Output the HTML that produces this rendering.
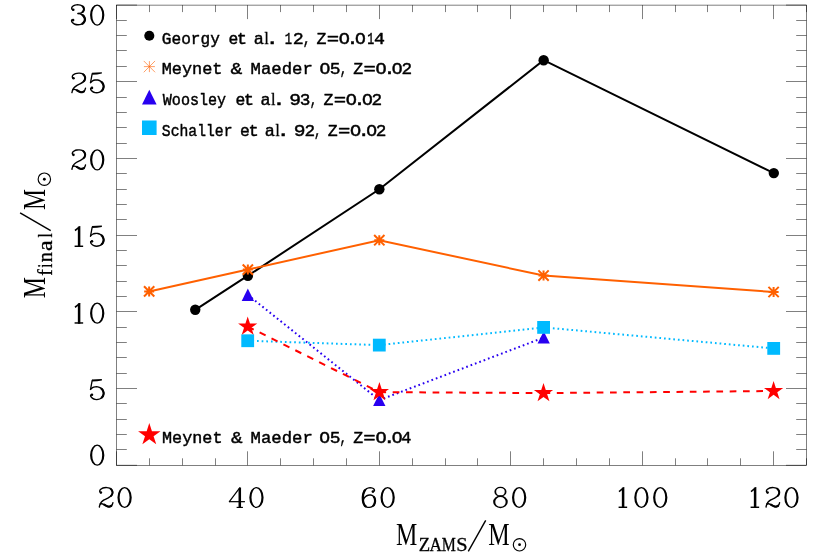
<!DOCTYPE html>
<html><head><meta charset="utf-8"><title>Final mass vs ZAMS mass</title>
<style>
html,body{margin:0;padding:0;background:#fff;}
body{width:830px;height:554px;overflow:hidden;}
svg{display:block;will-change:transform;}
text{font-family:"Liberation Serif",serif;fill:#000;}
.lg{font-family:"Liberation Mono",monospace;stroke:#000;stroke-width:0.45px;stroke-linejoin:round;}
.ls{stroke:#000;stroke-width:0.45px;}
.sb{stroke:#000;stroke-width:0.3px;}
.ax{stroke:#000;stroke-width:0.5;fill:none;}
</style></head><body>
<svg width="830" height="554" viewBox="0 0 830 554">
<rect width="830" height="554" fill="#fff"/>
<g class="ax">
<rect x="116.5" y="5.1" width="690" height="460.2"/>
<path d="M116.5 465.3v-14M116.5 5.1v14M149.5 465.3v-7M149.5 5.1v7M182.5 465.3v-7M182.5 5.1v7M215.5 465.3v-7M215.5 5.1v7M247.5 465.3v-14M247.5 5.1v14M280.5 465.3v-7M280.5 5.1v7M313.5 465.3v-7M313.5 5.1v7M346.5 465.3v-7M346.5 5.1v7M379.5 465.3v-14M379.5 5.1v14M412.5 465.3v-7M412.5 5.1v7M445.5 465.3v-7M445.5 5.1v7M477.5 465.3v-7M477.5 5.1v7M510.5 465.3v-14M510.5 5.1v14M543.5 465.3v-7M543.5 5.1v7M576.5 465.3v-7M576.5 5.1v7M609.5 465.3v-7M609.5 5.1v7M642.5 465.3v-14M642.5 5.1v14M675.5 465.3v-7M675.5 5.1v7M707.5 465.3v-7M707.5 5.1v7M740.5 465.3v-7M740.5 5.1v7M773.5 465.3v-14M773.5 5.1v14M806.5 465.3v-7M806.5 5.1v7M116.5 465.3h20.5M806.5 465.3h-20.5M116.5 449.5h10.3M806.5 449.5h-10.3M116.5 434.5h10.3M806.5 434.5h-10.3M116.5 419.5h10.3M806.5 419.5h-10.3M116.5 403.5h10.3M806.5 403.5h-10.3M116.5 388.5h20.5M806.5 388.5h-20.5M116.5 373.5h10.3M806.5 373.5h-10.3M116.5 357.5h10.3M806.5 357.5h-10.3M116.5 342.5h10.3M806.5 342.5h-10.3M116.5 327.5h10.3M806.5 327.5h-10.3M116.5 311.5h20.5M806.5 311.5h-20.5M116.5 296.5h10.3M806.5 296.5h-10.3M116.5 281.5h10.3M806.5 281.5h-10.3M116.5 265.5h10.3M806.5 265.5h-10.3M116.5 250.5h10.3M806.5 250.5h-10.3M116.5 235.5h20.5M806.5 235.5h-20.5M116.5 219.5h10.3M806.5 219.5h-10.3M116.5 204.5h10.3M806.5 204.5h-10.3M116.5 189.5h10.3M806.5 189.5h-10.3M116.5 173.5h10.3M806.5 173.5h-10.3M116.5 158.5h20.5M806.5 158.5h-20.5M116.5 143.5h10.3M806.5 143.5h-10.3M116.5 127.5h10.3M806.5 127.5h-10.3M116.5 112.5h10.3M806.5 112.5h-10.3M116.5 97.5h10.3M806.5 97.5h-10.3M116.5 81.5h20.5M806.5 81.5h-20.5M116.5 66.5h10.3M806.5 66.5h-10.3M116.5 50.5h10.3M806.5 50.5h-10.3M116.5 35.5h10.3M806.5 35.5h-10.3M116.5 20.5h10.3M806.5 20.5h-10.3M116.5 5.1h20.5M806.5 5.1h-20.5"/>
</g>
<polyline points="195.25,309.8 247.9,275.7 379.35,189.3 543.65,60.2 773.8,173.1" fill="none" stroke="#000" stroke-width="2"/>
<circle cx="195.25" cy="309.8" r="5.2" fill="#000"/>
<circle cx="247.9" cy="275.7" r="5.2" fill="#000"/>
<circle cx="379.35" cy="189.3" r="5.2" fill="#000"/>
<circle cx="543.65" cy="60.2" r="5.2" fill="#000"/>
<circle cx="773.8" cy="173.1" r="5.2" fill="#000"/>
<polyline points="149.15,291.4 247.85,269.6 379.3,240.2 543.55,275.55 773.6,292" fill="none" stroke="#ff6000" stroke-width="2"/>
<path d="M144.15 291.4h10M149.15 286.4v10M144 286.25l10.3 10.3M144 296.55l10.3 -10.3" stroke="#ff6000" stroke-width="2" fill="none"/>
<path d="M242.85 269.6h10M247.85 264.6v10M242.7 264.45l10.3 10.3M242.7 274.75l10.3 -10.3" stroke="#ff6000" stroke-width="2" fill="none"/>
<path d="M374.3 240.2h10M379.3 235.2v10M374.15 235.05l10.3 10.3M374.15 245.35l10.3 -10.3" stroke="#ff6000" stroke-width="2" fill="none"/>
<path d="M538.55 275.55h10M543.55 270.55v10M538.4 270.4l10.3 10.3M538.4 280.7l10.3 -10.3" stroke="#ff6000" stroke-width="2" fill="none"/>
<path d="M768.6 292h10M773.6 287v10M768.45 286.85l10.3 10.3M768.45 297.15l10.3 -10.3" stroke="#ff6000" stroke-width="2" fill="none"/>
<line x1="247.85" y1="294.95" x2="379.3" y2="400.1" stroke="#2800f0" stroke-width="2" stroke-dasharray="1.7 2.95"/><line x1="379.3" y1="400.1" x2="543.7" y2="337.6" stroke="#2800f0" stroke-width="2" stroke-dasharray="1.7 2.95"/>
<path d="M247.85 288.55L254 300.95H241.7Z" fill="#2800f0"/>
<path d="M379.3 393.7L385.45 406.1H373.15Z" fill="#2800f0"/>
<path d="M543.7 331.2L549.85 343.6H537.55Z" fill="#2800f0"/>
<line x1="247.7" y1="340.75" x2="379.3" y2="345.1" stroke="#00baff" stroke-width="2" stroke-dasharray="1.7 2.95"/><line x1="379.3" y1="345.1" x2="543.6" y2="327.4" stroke="#00baff" stroke-width="2" stroke-dasharray="1.7 2.95"/><line x1="543.6" y1="327.4" x2="773.7" y2="348.4" stroke="#00baff" stroke-width="2" stroke-dasharray="1.7 2.95"/>
<rect x="241.3" y="334.35" width="12.8" height="12.8" fill="#00baff"/>
<rect x="372.9" y="338.7" width="12.8" height="12.8" fill="#00baff"/>
<rect x="537.2" y="321" width="12.8" height="12.8" fill="#00baff"/>
<rect x="767.3" y="342" width="12.8" height="12.8" fill="#00baff"/>
<line x1="247.7" y1="326.55" x2="379.4" y2="392.1" stroke="#ff0000" stroke-width="2" stroke-dasharray="6.7 6.6"/><line x1="379.4" y1="392.1" x2="543.5" y2="393.1" stroke="#ff0000" stroke-width="2" stroke-dasharray="6.7 6.6"/><line x1="543.5" y1="393.1" x2="773.6" y2="391" stroke="#ff0000" stroke-width="2" stroke-dasharray="6.7 6.6"/>
<polygon points="247.7,316.45 249.97,323.43 257.31,323.43 251.37,327.74 253.64,334.72 247.7,330.41 241.76,334.72 244.03,327.74 238.09,323.43 245.43,323.43" fill="#ff0000"/>
<polygon points="379.4,382 381.67,388.98 389.01,388.98 383.07,393.29 385.34,400.27 379.4,395.96 373.46,400.27 375.73,393.29 369.79,388.98 377.13,388.98" fill="#ff0000"/>
<polygon points="543.5,383 545.77,389.98 553.11,389.98 547.17,394.29 549.44,401.27 543.5,396.96 537.56,401.27 539.83,394.29 533.89,389.98 541.23,389.98" fill="#ff0000"/>
<polygon points="773.6,380.9 775.87,387.88 783.21,387.88 777.27,392.19 779.54,399.17 773.6,394.86 767.66,399.17 769.93,392.19 763.99,387.88 771.33,387.88" fill="#ff0000"/>
<circle cx="149.3" cy="35.8" r="5.05" fill="#000"/>
<path d="M143.9 66.6h11M149.4 61.1v11M143.74 60.93l11.33 11.33M143.74 72.27l11.33 -11.33" stroke="#ff6000" stroke-width="0.6" fill="none"/>
<path d="M149.3 89.7L156.6 104.5H142Z" fill="#2800f0"/>
<rect x="142" y="120.5" width="14.6" height="14.5" fill="#00baff"/>
<polygon points="149.3,423 151.95,431.15 160.52,431.15 153.59,436.19 156.24,444.35 149.3,439.31 142.36,444.35 145.01,436.19 138.08,431.15 146.65,431.15" fill="#ff0000"/>
<text class="lg" font-size="17.1" transform="translate(161.84 43.5) scale(0.9438 1)">Georgy</text>
<text class="lg" font-size="17.1" transform="translate(228.38 43.5) scale(0.9538 1)">e</text>
<text class="lg" font-size="17.1" transform="translate(236.77 43.5) scale(0.9981 1)">t</text>
<text class="lg" font-size="17.1" transform="translate(253.65 43.5) scale(0.9867 1)">a</text>
<text class="ls" font-size="17.2" transform="translate(264.57 43.5) scale(0.8605 1)">l</text>
<text class="lg" font-size="17.1" transform="translate(265.16 43.5) scale(1.3567 1)">.</text>
<text class="lg" font-size="17.1" transform="translate(284.84 43.5) scale(0.7135 1)">1</text>
<text class="lg" font-size="17.1" transform="translate(292.75 43.5) scale(1.0729 1)">2</text>
<text class="lg" font-size="17.1" transform="translate(302.74 43.5) scale(0.7753 1)">,</text>
<text class="lg" font-size="17.1" transform="translate(316.48 43.5) scale(0.9678 1)">Z</text>
<text class="lg" font-size="17.1" transform="translate(326.63 43.5) scale(1.2047 1)">=</text>
<text class="lg" font-size="17.1" transform="translate(338.73 43.5) scale(1.0888 1)">O</text>
<text class="lg" font-size="17.1" transform="translate(346.32 43.5) scale(1.2164 1)">.</text>
<text class="lg" font-size="17.1" transform="translate(354.95 43.5) scale(1.0548 1)">O</text>
<text class="lg" font-size="17.1" transform="translate(367.27 43.5) scale(0.6784 1)">1</text>
<text class="lg" font-size="17.1" transform="translate(373.95 43.5) scale(1.0661 1)">4</text>
<text class="lg" font-size="17.1" transform="translate(161.75 74.2) scale(0.9866 1)">Meynet</text>
<text class="lg" font-size="17.1" transform="translate(230.49 74.2) scale(1.1532 1)">&amp;</text>
<text class="lg" font-size="17.1" transform="translate(250.52 74.2) scale(1.0126 1)">Maeder</text>
<text class="lg" font-size="17.1" transform="translate(319.55 74.2) scale(1.0548 1)">O</text>
<text class="lg" font-size="17.1" transform="translate(329.83 74.2) scale(1.0504 1)">5</text>
<text class="lg" font-size="17.1" transform="translate(339.81 74.2) scale(0.7218 1)">,</text>
<text class="lg" font-size="17.1" transform="translate(353.33 74.2) scale(0.9678 1)">Z</text>
<text class="lg" font-size="17.1" transform="translate(363.48 74.2) scale(1.2047 1)">=</text>
<text class="lg" font-size="17.1" transform="translate(375.58 74.2) scale(1.0888 1)">O</text>
<text class="lg" font-size="17.1" transform="translate(383.17 74.2) scale(1.2164 1)">.</text>
<text class="lg" font-size="17.1" transform="translate(391.8 74.2) scale(1.0548 1)">O</text>
<text class="lg" font-size="17.1" transform="translate(401.39 74.2) scale(1.0355 1)">2</text>
<text class="lg" font-size="17.1" transform="translate(162.8 104.8) scale(0.8817 1)">Woosley</text>
<text class="lg" font-size="17.1" transform="translate(235.38 104.8) scale(0.9538 1)">e</text>
<text class="lg" font-size="17.1" transform="translate(243.77 104.8) scale(0.9981 1)">t</text>
<text class="lg" font-size="17.1" transform="translate(260.45 104.8) scale(0.9867 1)">a</text>
<text class="ls" font-size="17.2" transform="translate(271.37 104.8) scale(0.8605 1)">l</text>
<text class="lg" font-size="17.1" transform="translate(271.96 104.8) scale(1.3567 1)">.</text>
<text class="lg" font-size="17.1" transform="translate(289.17 104.8) scale(1.1478 1)">9</text>
<text class="lg" font-size="17.1" transform="translate(299.79 104.8) scale(1.0383 1)">3</text>
<text class="lg" font-size="17.1" transform="translate(309.66 104.8) scale(0.7218 1)">,</text>
<text class="lg" font-size="17.1" transform="translate(323.48 104.8) scale(0.9678 1)">Z</text>
<text class="lg" font-size="17.1" transform="translate(333.63 104.8) scale(1.2047 1)">=</text>
<text class="lg" font-size="17.1" transform="translate(345.73 104.8) scale(1.0888 1)">O</text>
<text class="lg" font-size="17.1" transform="translate(353.32 104.8) scale(1.2164 1)">.</text>
<text class="lg" font-size="17.1" transform="translate(361.95 104.8) scale(1.0548 1)">O</text>
<text class="lg" font-size="17.1" transform="translate(371.54 104.8) scale(1.0355 1)">2</text>
<text class="lg" font-size="17.1" transform="translate(161.84 135.5) scale(0.8613 1)">Schaller</text>
<text class="lg" font-size="17.1" transform="translate(240.08 135.5) scale(0.9538 1)">e</text>
<text class="lg" font-size="17.1" transform="translate(248.47 135.5) scale(0.9981 1)">t</text>
<text class="lg" font-size="17.1" transform="translate(264.65 135.5) scale(0.9867 1)">a</text>
<text class="ls" font-size="17.2" transform="translate(275.57 135.5) scale(0.8605 1)">l</text>
<text class="lg" font-size="17.1" transform="translate(276.16 135.5) scale(1.3567 1)">.</text>
<text class="lg" font-size="17.1" transform="translate(293.87 135.5) scale(1.1478 1)">9</text>
<text class="lg" font-size="17.1" transform="translate(304.39 135.5) scale(1.0355 1)">2</text>
<text class="lg" font-size="17.1" transform="translate(313.96 135.5) scale(0.7218 1)">,</text>
<text class="lg" font-size="17.1" transform="translate(327.78 135.5) scale(0.9678 1)">Z</text>
<text class="lg" font-size="17.1" transform="translate(337.93 135.5) scale(1.2047 1)">=</text>
<text class="lg" font-size="17.1" transform="translate(350.03 135.5) scale(1.0888 1)">O</text>
<text class="lg" font-size="17.1" transform="translate(357.62 135.5) scale(1.2164 1)">.</text>
<text class="lg" font-size="17.1" transform="translate(366.25 135.5) scale(1.0548 1)">O</text>
<text class="lg" font-size="17.1" transform="translate(375.84 135.5) scale(1.0355 1)">2</text>
<text class="lg" font-size="17.1" transform="translate(162.05 442.5) scale(0.9815 1)">Meynet</text>
<text class="lg" font-size="17.1" transform="translate(230.9 442.5) scale(1.1329 1)">&amp;</text>
<text class="lg" font-size="17.1" transform="translate(250.62 442.5) scale(1.0109 1)">Maeder</text>
<text class="lg" font-size="17.1" transform="translate(319.35 442.5) scale(1.0548 1)">O</text>
<text class="lg" font-size="17.1" transform="translate(329.63 442.5) scale(1.0504 1)">5</text>
<text class="lg" font-size="17.1" transform="translate(339.61 442.5) scale(0.7218 1)">,</text>
<text class="lg" font-size="17.1" transform="translate(353.18 442.5) scale(0.9678 1)">Z</text>
<text class="lg" font-size="17.1" transform="translate(363.33 442.5) scale(1.2047 1)">=</text>
<text class="lg" font-size="17.1" transform="translate(375.43 442.5) scale(1.0888 1)">O</text>
<text class="lg" font-size="17.1" transform="translate(383.02 442.5) scale(1.2164 1)">.</text>
<text class="lg" font-size="17.1" transform="translate(391.65 442.5) scale(1.0548 1)">O</text>
<text class="lg" font-size="17.1" transform="translate(401.21 442.5) scale(0.9867 1)">4</text>
<g transform="translate(97.2 465.7)"><path d="M-7.15 -10.5A7.15 10.6 0 1 1 7.15 -10.5A7.15 10.6 0 1 1 -7.15 -10.5ZM-4.95 -10.5A4.95 9.35 0 1 0 4.95 -10.5A4.95 9.35 0 1 0 -4.95 -10.5Z" fill="#000"/></g>
<g transform="translate(97.3 400.39)"><path d="M-5.35 -20.91L4.6 -21.41L4.6 -20L-0.2 -19.19L-5.1 -18.89Z" fill="#000"/><path d="M-5.1 -19.9C-5.38 -18.4 -6.49 -12.41 -6.77 -10.91" fill="none" stroke="#000" stroke-width="1.3" stroke-linecap="round" stroke-linejoin="round"/><path d="M-6.77 -11.06C-6.43 -11.34 -5.51 -12.31 -4.75 -12.73C-3.99 -13.14 -3.11 -13.4 -2.22 -13.54C-1.34 -13.67 -0.35 -13.71 0.56 -13.54C1.46 -13.36 2.42 -13.02 3.23 -12.47C4.04 -11.93 4.88 -11.12 5.4 -10.25C5.93 -9.39 6.32 -8.26 6.36 -7.27C6.41 -6.29 6.09 -5.19 5.66 -4.34C5.22 -3.49 4.55 -2.74 3.74 -2.17C2.93 -1.61 1.8 -1.16 0.81 -0.96C-0.19 -0.76 -1.31 -0.79 -2.22 -0.96C-3.13 -1.13 -3.96 -1.51 -4.65 -1.97C-5.34 -2.43 -6.03 -3.19 -6.36 -3.74C-6.7 -4.28 -6.62 -5 -6.67 -5.25" fill="none" stroke="#000" stroke-width="1.4" stroke-linecap="round" stroke-linejoin="round"/><circle cx="-5.35" cy="-5.66" r="1.31" fill="#000"/><path d="M4.34 -11.46C4.52 -11.26 5.07 -10.95 5.4 -10.25C5.74 -9.55 6.32 -8.26 6.36 -7.27C6.41 -6.29 5.97 -5.08 5.66 -4.34C5.35 -3.61 4.69 -3.12 4.49 -2.88" fill="none" stroke="#000" stroke-width="2.2" stroke-linecap="round" stroke-linejoin="round"/></g>
<g transform="translate(97.2 323.69)"><path d="M-7.15 -10.5A7.15 10.6 0 1 1 7.15 -10.5A7.15 10.6 0 1 1 -7.15 -10.5ZM-4.95 -10.5A4.95 9.35 0 1 0 4.95 -10.5A4.95 9.35 0 1 0 -4.95 -10.5Z" fill="#000"/></g>
<g transform="translate(79.1 323.69)"><path d="M-1.25 -20.2V0H1.25V-20.8Z" fill="#000"/><path d="M-4.5 -1.45H4.05V0H-4.5Z" fill="#000"/><path d="M1.26 -20.8L0.1 -20.8L-4.55 -17.12L-3.69 -15.7L-1.16 -17.63Z" fill="#000"/></g>
<g transform="translate(97.3 246.99)"><path d="M-5.35 -20.91L4.6 -21.41L4.6 -20L-0.2 -19.19L-5.1 -18.89Z" fill="#000"/><path d="M-5.1 -19.9C-5.38 -18.4 -6.49 -12.41 -6.77 -10.91" fill="none" stroke="#000" stroke-width="1.3" stroke-linecap="round" stroke-linejoin="round"/><path d="M-6.77 -11.06C-6.43 -11.34 -5.51 -12.31 -4.75 -12.73C-3.99 -13.14 -3.11 -13.4 -2.22 -13.54C-1.34 -13.67 -0.35 -13.71 0.56 -13.54C1.46 -13.36 2.42 -13.02 3.23 -12.47C4.04 -11.93 4.88 -11.12 5.4 -10.25C5.93 -9.39 6.32 -8.26 6.36 -7.27C6.41 -6.29 6.09 -5.19 5.66 -4.34C5.22 -3.49 4.55 -2.74 3.74 -2.17C2.93 -1.61 1.8 -1.16 0.81 -0.96C-0.19 -0.76 -1.31 -0.79 -2.22 -0.96C-3.13 -1.13 -3.96 -1.51 -4.65 -1.97C-5.34 -2.43 -6.03 -3.19 -6.36 -3.74C-6.7 -4.28 -6.62 -5 -6.67 -5.25" fill="none" stroke="#000" stroke-width="1.4" stroke-linecap="round" stroke-linejoin="round"/><circle cx="-5.35" cy="-5.66" r="1.31" fill="#000"/><path d="M4.34 -11.46C4.52 -11.26 5.07 -10.95 5.4 -10.25C5.74 -9.55 6.32 -8.26 6.36 -7.27C6.41 -6.29 5.97 -5.08 5.66 -4.34C5.35 -3.61 4.69 -3.12 4.49 -2.88" fill="none" stroke="#000" stroke-width="2.2" stroke-linecap="round" stroke-linejoin="round"/></g>
<g transform="translate(79.1 246.99)"><path d="M-1.25 -20.2V0H1.25V-20.8Z" fill="#000"/><path d="M-4.5 -1.45H4.05V0H-4.5Z" fill="#000"/><path d="M1.26 -20.8L0.1 -20.8L-4.55 -17.12L-3.69 -15.7L-1.16 -17.63Z" fill="#000"/></g>
<g transform="translate(97.2 170.28)"><path d="M-7.15 -10.5A7.15 10.6 0 1 1 7.15 -10.5A7.15 10.6 0 1 1 -7.15 -10.5ZM-4.95 -10.5A4.95 9.35 0 1 0 4.95 -10.5A4.95 9.35 0 1 0 -4.95 -10.5Z" fill="#000"/></g>
<g transform="translate(78.7 170.28)"><path d="M-5.3 -15.31C-5.48 -15.48 -6.25 -15.85 -6.36 -16.32C-6.47 -16.79 -6.3 -17.62 -5.96 -18.14C-5.61 -18.66 -4.99 -19.1 -4.29 -19.45C-3.59 -19.81 -2.61 -20.1 -1.77 -20.26C-0.93 -20.42 -0.11 -20.48 0.76 -20.41C1.62 -20.35 2.65 -20.21 3.43 -19.86C4.22 -19.51 4.95 -18.95 5.45 -18.29C5.96 -17.64 6.38 -16.72 6.46 -15.92C6.55 -15.12 6.34 -14.24 5.96 -13.49C5.58 -12.75 4.97 -12.11 4.19 -11.47C3.41 -10.84 2.3 -10.28 1.26 -9.71C0.23 -9.13 -1.07 -8.63 -2.02 -8.04C-2.97 -7.45 -3.82 -6.82 -4.44 -6.17C-5.07 -5.52 -5.42 -4.78 -5.76 -4.15C-6.09 -3.52 -6.3 -2.91 -6.46 -2.38C-6.63 -1.86 -6.72 -1.25 -6.77 -1.02" fill="none" stroke="#000" stroke-width="1.4" stroke-linecap="round" stroke-linejoin="round"/><path d="M-5.96 -4C-5.68 -4.03 -4.87 -4.25 -4.29 -4.2C-3.72 -4.15 -3.16 -3.97 -2.53 -3.7C-1.89 -3.42 -1.18 -2.89 -0.51 -2.54C0.17 -2.18 0.86 -1.77 1.52 -1.58C2.17 -1.38 2.82 -1.28 3.43 -1.37C4.05 -1.47 4.73 -1.75 5.2 -2.13C5.67 -2.51 6 -3.12 6.26 -3.65C6.52 -4.18 6.68 -5.04 6.77 -5.31" fill="none" stroke="#000" stroke-width="1.4" stroke-linecap="round" stroke-linejoin="round"/><circle cx="-5.2" cy="-15.41" r="1.26" fill="#000"/><path d="M4.55 -19.15C4.7 -19.01 5.13 -18.83 5.45 -18.29C5.77 -17.75 6.38 -16.72 6.46 -15.92C6.55 -15.12 6.21 -14.13 5.96 -13.49C5.71 -12.86 5.12 -12.32 4.95 -12.08" fill="none" stroke="#000" stroke-width="2.0" stroke-linecap="round" stroke-linejoin="round"/><path d="M-1.77 -3.29C-1.56 -3.17 -1.05 -2.82 -0.51 -2.54C0.04 -2.25 0.86 -1.77 1.52 -1.58C2.17 -1.38 2.82 -1.28 3.43 -1.37C4.05 -1.47 4.91 -2.01 5.2 -2.13" fill="none" stroke="#000" stroke-width="2.2" stroke-linecap="round" stroke-linejoin="round"/></g>
<g transform="translate(97.3 93.58)"><path d="M-5.35 -20.91L4.6 -21.41L4.6 -20L-0.2 -19.19L-5.1 -18.89Z" fill="#000"/><path d="M-5.1 -19.9C-5.38 -18.4 -6.49 -12.41 -6.77 -10.91" fill="none" stroke="#000" stroke-width="1.3" stroke-linecap="round" stroke-linejoin="round"/><path d="M-6.77 -11.06C-6.43 -11.34 -5.51 -12.31 -4.75 -12.73C-3.99 -13.14 -3.11 -13.4 -2.22 -13.54C-1.34 -13.67 -0.35 -13.71 0.56 -13.54C1.46 -13.36 2.42 -13.02 3.23 -12.47C4.04 -11.93 4.88 -11.12 5.4 -10.25C5.93 -9.39 6.32 -8.26 6.36 -7.27C6.41 -6.29 6.09 -5.19 5.66 -4.34C5.22 -3.49 4.55 -2.74 3.74 -2.17C2.93 -1.61 1.8 -1.16 0.81 -0.96C-0.19 -0.76 -1.31 -0.79 -2.22 -0.96C-3.13 -1.13 -3.96 -1.51 -4.65 -1.97C-5.34 -2.43 -6.03 -3.19 -6.36 -3.74C-6.7 -4.28 -6.62 -5 -6.67 -5.25" fill="none" stroke="#000" stroke-width="1.4" stroke-linecap="round" stroke-linejoin="round"/><circle cx="-5.35" cy="-5.66" r="1.31" fill="#000"/><path d="M4.34 -11.46C4.52 -11.26 5.07 -10.95 5.4 -10.25C5.74 -9.55 6.32 -8.26 6.36 -7.27C6.41 -6.29 5.97 -5.08 5.66 -4.34C5.35 -3.61 4.69 -3.12 4.49 -2.88" fill="none" stroke="#000" stroke-width="2.2" stroke-linecap="round" stroke-linejoin="round"/></g>
<g transform="translate(78.7 93.58)"><path d="M-5.3 -15.31C-5.48 -15.48 -6.25 -15.85 -6.36 -16.32C-6.47 -16.79 -6.3 -17.62 -5.96 -18.14C-5.61 -18.66 -4.99 -19.1 -4.29 -19.45C-3.59 -19.81 -2.61 -20.1 -1.77 -20.26C-0.93 -20.42 -0.11 -20.48 0.76 -20.41C1.62 -20.35 2.65 -20.21 3.43 -19.86C4.22 -19.51 4.95 -18.95 5.45 -18.29C5.96 -17.64 6.38 -16.72 6.46 -15.92C6.55 -15.12 6.34 -14.24 5.96 -13.49C5.58 -12.75 4.97 -12.11 4.19 -11.47C3.41 -10.84 2.3 -10.28 1.26 -9.71C0.23 -9.13 -1.07 -8.63 -2.02 -8.04C-2.97 -7.45 -3.82 -6.82 -4.44 -6.17C-5.07 -5.52 -5.42 -4.78 -5.76 -4.15C-6.09 -3.52 -6.3 -2.91 -6.46 -2.38C-6.63 -1.86 -6.72 -1.25 -6.77 -1.02" fill="none" stroke="#000" stroke-width="1.4" stroke-linecap="round" stroke-linejoin="round"/><path d="M-5.96 -4C-5.68 -4.03 -4.87 -4.25 -4.29 -4.2C-3.72 -4.15 -3.16 -3.97 -2.53 -3.7C-1.89 -3.42 -1.18 -2.89 -0.51 -2.54C0.17 -2.18 0.86 -1.77 1.52 -1.58C2.17 -1.38 2.82 -1.28 3.43 -1.37C4.05 -1.47 4.73 -1.75 5.2 -2.13C5.67 -2.51 6 -3.12 6.26 -3.65C6.52 -4.18 6.68 -5.04 6.77 -5.31" fill="none" stroke="#000" stroke-width="1.4" stroke-linecap="round" stroke-linejoin="round"/><circle cx="-5.2" cy="-15.41" r="1.26" fill="#000"/><path d="M4.55 -19.15C4.7 -19.01 5.13 -18.83 5.45 -18.29C5.77 -17.75 6.38 -16.72 6.46 -15.92C6.55 -15.12 6.21 -14.13 5.96 -13.49C5.71 -12.86 5.12 -12.32 4.95 -12.08" fill="none" stroke="#000" stroke-width="2.0" stroke-linecap="round" stroke-linejoin="round"/><path d="M-1.77 -3.29C-1.56 -3.17 -1.05 -2.82 -0.51 -2.54C0.04 -2.25 0.86 -1.77 1.52 -1.58C2.17 -1.38 2.82 -1.28 3.43 -1.37C4.05 -1.47 4.91 -2.01 5.2 -2.13" fill="none" stroke="#000" stroke-width="2.2" stroke-linecap="round" stroke-linejoin="round"/></g>
<g transform="translate(97.2 25.6)"><path d="M-7.15 -10.5A7.15 10.6 0 1 1 7.15 -10.5A7.15 10.6 0 1 1 -7.15 -10.5ZM-4.95 -10.5A4.95 9.35 0 1 0 4.95 -10.5A4.95 9.35 0 1 0 -4.95 -10.5Z" fill="#000"/></g>
<g transform="translate(78.43 25.6)"><path d="M-5.38 -15.76C-5.6 -15.93 -6.54 -16.29 -6.69 -16.77C-6.84 -17.25 -6.63 -18.11 -6.29 -18.64C-5.94 -19.17 -5.32 -19.6 -4.62 -19.95C-3.92 -20.29 -2.94 -20.58 -2.1 -20.71C-1.25 -20.83 -0.44 -20.83 0.43 -20.71C1.3 -20.58 2.34 -20.35 3.11 -19.95C3.87 -19.55 4.62 -18.95 5.03 -18.33C5.43 -17.72 5.56 -16.94 5.53 -16.26C5.5 -15.59 5.25 -14.87 4.82 -14.29C4.39 -13.72 3.81 -13.2 2.95 -12.83C2.1 -12.46 0.22 -12.2 -0.33 -12.07" fill="none" stroke="#000" stroke-width="1.4" stroke-linecap="round" stroke-linejoin="round"/><path d="M-0.33 -12.07C0.18 -11.95 1.79 -11.77 2.7 -11.36C3.61 -10.96 4.51 -10.35 5.13 -9.65C5.74 -8.95 6.2 -7.99 6.39 -7.17C6.57 -6.36 6.5 -5.51 6.24 -4.75C5.98 -3.98 5.45 -3.16 4.82 -2.58C4.19 -1.99 3.35 -1.51 2.45 -1.21C1.55 -0.92 0.43 -0.78 -0.58 -0.81C-1.59 -0.83 -2.74 -1.04 -3.61 -1.36C-4.48 -1.69 -5.25 -2.27 -5.78 -2.78C-6.31 -3.28 -6.63 -3.93 -6.79 -4.39C-6.95 -4.86 -6.75 -5.36 -6.74 -5.56" fill="none" stroke="#000" stroke-width="1.4" stroke-linecap="round" stroke-linejoin="round"/><circle cx="-5.18" cy="-15.86" r="1.31" fill="#000"/><circle cx="-5.33" cy="-5.51" r="1.31" fill="#000"/><path d="M4.32 -19.04C4.44 -18.92 4.82 -18.8 5.03 -18.33C5.23 -17.87 5.56 -16.94 5.53 -16.26C5.5 -15.59 5.06 -14.74 4.82 -14.29C4.59 -13.85 4.23 -13.7 4.12 -13.59" fill="none" stroke="#000" stroke-width="2.0" stroke-linecap="round" stroke-linejoin="round"/><path d="M4.37 -10.25C4.49 -10.15 4.79 -10.16 5.13 -9.65C5.46 -9.13 6.2 -7.99 6.39 -7.17C6.57 -6.36 6.5 -5.51 6.24 -4.75C5.98 -3.98 5.18 -3.02 4.82 -2.58C4.47 -2.13 4.23 -2.15 4.12 -2.07" fill="none" stroke="#000" stroke-width="2.3" stroke-linecap="round" stroke-linejoin="round"/></g>
<g transform="translate(106.1 508)"><path d="M-5.3 -15.31C-5.48 -15.48 -6.25 -15.85 -6.36 -16.32C-6.47 -16.79 -6.3 -17.62 -5.96 -18.14C-5.61 -18.66 -4.99 -19.1 -4.29 -19.45C-3.59 -19.81 -2.61 -20.1 -1.77 -20.26C-0.93 -20.42 -0.11 -20.48 0.76 -20.41C1.62 -20.35 2.65 -20.21 3.43 -19.86C4.22 -19.51 4.95 -18.95 5.45 -18.29C5.96 -17.64 6.38 -16.72 6.46 -15.92C6.55 -15.12 6.34 -14.24 5.96 -13.49C5.58 -12.75 4.97 -12.11 4.19 -11.47C3.41 -10.84 2.3 -10.28 1.26 -9.71C0.23 -9.13 -1.07 -8.63 -2.02 -8.04C-2.97 -7.45 -3.82 -6.82 -4.44 -6.17C-5.07 -5.52 -5.42 -4.78 -5.76 -4.15C-6.09 -3.52 -6.3 -2.91 -6.46 -2.38C-6.63 -1.86 -6.72 -1.25 -6.77 -1.02" fill="none" stroke="#000" stroke-width="1.4" stroke-linecap="round" stroke-linejoin="round"/><path d="M-5.96 -4C-5.68 -4.03 -4.87 -4.25 -4.29 -4.2C-3.72 -4.15 -3.16 -3.97 -2.53 -3.7C-1.89 -3.42 -1.18 -2.89 -0.51 -2.54C0.17 -2.18 0.86 -1.77 1.52 -1.58C2.17 -1.38 2.82 -1.28 3.43 -1.37C4.05 -1.47 4.73 -1.75 5.2 -2.13C5.67 -2.51 6 -3.12 6.26 -3.65C6.52 -4.18 6.68 -5.04 6.77 -5.31" fill="none" stroke="#000" stroke-width="1.4" stroke-linecap="round" stroke-linejoin="round"/><circle cx="-5.2" cy="-15.41" r="1.26" fill="#000"/><path d="M4.55 -19.15C4.7 -19.01 5.13 -18.83 5.45 -18.29C5.77 -17.75 6.38 -16.72 6.46 -15.92C6.55 -15.12 6.21 -14.13 5.96 -13.49C5.71 -12.86 5.12 -12.32 4.95 -12.08" fill="none" stroke="#000" stroke-width="2.0" stroke-linecap="round" stroke-linejoin="round"/><path d="M-1.77 -3.29C-1.56 -3.17 -1.05 -2.82 -0.51 -2.54C0.04 -2.25 0.86 -1.77 1.52 -1.58C2.17 -1.38 2.82 -1.28 3.43 -1.37C4.05 -1.47 4.91 -2.01 5.2 -2.13" fill="none" stroke="#000" stroke-width="2.2" stroke-linecap="round" stroke-linejoin="round"/></g>
<g transform="translate(124.6 508)"><path d="M-7.15 -10.5A7.15 10.6 0 1 1 7.15 -10.5A7.15 10.6 0 1 1 -7.15 -10.5ZM-4.95 -10.5A4.95 9.35 0 1 0 4.95 -10.5A4.95 9.35 0 1 0 -4.95 -10.5Z" fill="#000"/></g>
<g transform="translate(237 508)"><path d="M1.53 -19.45L4.05 -20.57L4.05 -0.26L1.53 -0.26Z" fill="#000"/><path d="M-0.39 -1.17L5.92 -1.17L5.92 0L-0.39 0Z" fill="#000"/><path d="M-7.87 -6.93L7.94 -6.93L7.94 -5.72L-7.87 -5.72Z" fill="#000"/><path d="M2.89 -20.36L-7.67 -6.47" stroke="#000" stroke-width="1.2" fill="none" stroke-linecap="round"/></g>
<g transform="translate(256.45 508)"><path d="M-7.15 -10.5A7.15 10.6 0 1 1 7.15 -10.5A7.15 10.6 0 1 1 -7.15 -10.5ZM-4.95 -10.5A4.95 9.35 0 1 0 4.95 -10.5A4.95 9.35 0 1 0 -4.95 -10.5Z" fill="#000"/></g>
<g transform="translate(369 508)"><path d="M4.05 -16.32C4.29 -16.51 5.36 -16.94 5.46 -17.43C5.57 -17.93 5.14 -18.86 4.66 -19.3C4.17 -19.75 3.34 -19.98 2.54 -20.11C1.74 -20.25 0.73 -20.28 -0.14 -20.11C-1.01 -19.94 -1.91 -19.65 -2.67 -19.1C-3.42 -18.55 -4.16 -17.78 -4.69 -16.83C-5.22 -15.88 -5.6 -14.64 -5.85 -13.39C-6.09 -12.15 -6.19 -10.7 -6.15 -9.35C-6.11 -8.01 -5.92 -6.47 -5.6 -5.31C-5.27 -4.15 -4.75 -3.11 -4.18 -2.38C-3.61 -1.66 -2.92 -1.26 -2.16 -0.97C-1.4 -0.68 -0.5 -0.55 0.36 -0.62C1.23 -0.68 2.24 -0.9 3.04 -1.37C3.84 -1.85 4.66 -2.58 5.16 -3.44C5.67 -4.31 5.99 -5.52 6.07 -6.58C6.15 -7.63 6 -8.86 5.67 -9.76C5.33 -10.66 4.72 -11.45 4.05 -11.98C3.38 -12.51 2.45 -12.8 1.63 -12.94C0.8 -13.07 -0.07 -13.02 -0.9 -12.79C-1.72 -12.55 -2.61 -12.1 -3.32 -11.53C-4.04 -10.95 -4.75 -10.09 -5.19 -9.35C-5.63 -8.61 -5.82 -7.46 -5.95 -7.08" fill="none" stroke="#000" stroke-width="1.4" stroke-linecap="round" stroke-linejoin="round"/><circle cx="3.9" cy="-16.42" r="1.31" fill="#000"/><path d="M-3.93 -17.84C-4.06 -17.67 -4.37 -17.57 -4.69 -16.83C-5.01 -16.09 -5.6 -14.64 -5.85 -13.39C-6.09 -12.15 -6.19 -10.7 -6.15 -9.35C-6.11 -8.01 -5.92 -6.47 -5.6 -5.31C-5.27 -4.15 -4.54 -2.97 -4.18 -2.38C-3.82 -1.79 -3.55 -1.88 -3.42 -1.78" fill="none" stroke="#000" stroke-width="2.3" stroke-linecap="round" stroke-linejoin="round"/><path d="M4.4 -2.54C4.53 -2.69 4.88 -2.77 5.16 -3.44C5.44 -4.12 5.99 -5.52 6.07 -6.58C6.15 -7.63 5.87 -9.02 5.67 -9.76C5.46 -10.5 4.99 -10.81 4.86 -11.02" fill="none" stroke="#000" stroke-width="2.2" stroke-linecap="round" stroke-linejoin="round"/></g>
<g transform="translate(387.65 508)"><path d="M-7.15 -10.5A7.15 10.6 0 1 1 7.15 -10.5A7.15 10.6 0 1 1 -7.15 -10.5ZM-4.95 -10.5A4.95 9.35 0 1 0 4.95 -10.5A4.95 9.35 0 1 0 -4.95 -10.5Z" fill="#000"/></g>
<g transform="translate(500.45 508)"><path d="M-6.06 -16.32A6.06 4.9 0 1 1 6.06 -16.32A6.06 4.9 0 1 1 -6.06 -16.32ZM-4.3 -16.32A4.3 3.64 0 1 0 4.3 -16.32A4.3 3.64 0 1 0 -4.3 -16.32Z" fill="#000"/><path d="M-7.3 -6.12A7.3 6.26 0 1 1 7.3 -6.12A7.3 6.26 0 1 1 -7.3 -6.12ZM-5.2 -6.12A5.2 4.95 0 1 0 5.2 -6.12A5.2 4.95 0 1 0 -5.2 -6.12Z" fill="#000"/></g>
<g transform="translate(519.15 508)"><path d="M-7.15 -10.5A7.15 10.6 0 1 1 7.15 -10.5A7.15 10.6 0 1 1 -7.15 -10.5ZM-4.95 -10.5A4.95 9.35 0 1 0 4.95 -10.5A4.95 9.35 0 1 0 -4.95 -10.5Z" fill="#000"/></g>
<g transform="translate(623.1 508)"><path d="M-1.25 -20.2V0H1.25V-20.8Z" fill="#000"/><path d="M-4.5 -1.45H4.05V0H-4.5Z" fill="#000"/><path d="M1.26 -20.8L0.1 -20.8L-4.55 -17.12L-3.69 -15.7L-1.16 -17.63Z" fill="#000"/></g>
<g transform="translate(641.4 508)"><path d="M-7.15 -10.5A7.15 10.6 0 1 1 7.15 -10.5A7.15 10.6 0 1 1 -7.15 -10.5ZM-4.95 -10.5A4.95 9.35 0 1 0 4.95 -10.5A4.95 9.35 0 1 0 -4.95 -10.5Z" fill="#000"/></g>
<g transform="translate(660.25 508)"><path d="M-7.15 -10.5A7.15 10.6 0 1 1 7.15 -10.5A7.15 10.6 0 1 1 -7.15 -10.5ZM-4.95 -10.5A4.95 9.35 0 1 0 4.95 -10.5A4.95 9.35 0 1 0 -4.95 -10.5Z" fill="#000"/></g>
<g transform="translate(755.1 508)"><path d="M-1.25 -20.2V0H1.25V-20.8Z" fill="#000"/><path d="M-4.5 -1.45H4.05V0H-4.5Z" fill="#000"/><path d="M1.26 -20.8L0.1 -20.8L-4.55 -17.12L-3.69 -15.7L-1.16 -17.63Z" fill="#000"/></g>
<g transform="translate(772.8 508)"><path d="M-5.3 -15.31C-5.48 -15.48 -6.25 -15.85 -6.36 -16.32C-6.47 -16.79 -6.3 -17.62 -5.96 -18.14C-5.61 -18.66 -4.99 -19.1 -4.29 -19.45C-3.59 -19.81 -2.61 -20.1 -1.77 -20.26C-0.93 -20.42 -0.11 -20.48 0.76 -20.41C1.62 -20.35 2.65 -20.21 3.43 -19.86C4.22 -19.51 4.95 -18.95 5.45 -18.29C5.96 -17.64 6.38 -16.72 6.46 -15.92C6.55 -15.12 6.34 -14.24 5.96 -13.49C5.58 -12.75 4.97 -12.11 4.19 -11.47C3.41 -10.84 2.3 -10.28 1.26 -9.71C0.23 -9.13 -1.07 -8.63 -2.02 -8.04C-2.97 -7.45 -3.82 -6.82 -4.44 -6.17C-5.07 -5.52 -5.42 -4.78 -5.76 -4.15C-6.09 -3.52 -6.3 -2.91 -6.46 -2.38C-6.63 -1.86 -6.72 -1.25 -6.77 -1.02" fill="none" stroke="#000" stroke-width="1.4" stroke-linecap="round" stroke-linejoin="round"/><path d="M-5.96 -4C-5.68 -4.03 -4.87 -4.25 -4.29 -4.2C-3.72 -4.15 -3.16 -3.97 -2.53 -3.7C-1.89 -3.42 -1.18 -2.89 -0.51 -2.54C0.17 -2.18 0.86 -1.77 1.52 -1.58C2.17 -1.38 2.82 -1.28 3.43 -1.37C4.05 -1.47 4.73 -1.75 5.2 -2.13C5.67 -2.51 6 -3.12 6.26 -3.65C6.52 -4.18 6.68 -5.04 6.77 -5.31" fill="none" stroke="#000" stroke-width="1.4" stroke-linecap="round" stroke-linejoin="round"/><circle cx="-5.2" cy="-15.41" r="1.26" fill="#000"/><path d="M4.55 -19.15C4.7 -19.01 5.13 -18.83 5.45 -18.29C5.77 -17.75 6.38 -16.72 6.46 -15.92C6.55 -15.12 6.21 -14.13 5.96 -13.49C5.71 -12.86 5.12 -12.32 4.95 -12.08" fill="none" stroke="#000" stroke-width="2.0" stroke-linecap="round" stroke-linejoin="round"/><path d="M-1.77 -3.29C-1.56 -3.17 -1.05 -2.82 -0.51 -2.54C0.04 -2.25 0.86 -1.77 1.52 -1.58C2.17 -1.38 2.82 -1.28 3.43 -1.37C4.05 -1.47 4.91 -2.01 5.2 -2.13" fill="none" stroke="#000" stroke-width="2.2" stroke-linecap="round" stroke-linejoin="round"/></g>
<g transform="translate(791.45 508)"><path d="M-7.15 -10.5A7.15 10.6 0 1 1 7.15 -10.5A7.15 10.6 0 1 1 -7.15 -10.5ZM-4.95 -10.5A4.95 9.35 0 1 0 4.95 -10.5A4.95 9.35 0 1 0 -4.95 -10.5Z" fill="#000"/></g>
<text class="" font-size="31.2" transform="translate(396.03 544.9) scale(0.7683 1)">M</text>
<text class="sb" font-size="18.6" transform="translate(418.63 551.3) scale(1.0010 1)">Z</text>
<text class="sb" font-size="18.6" transform="translate(429.6 551.3) scale(0.9201 1)">A</text>
<text class="sb" font-size="18.6" transform="translate(441.85 551.3) scale(0.8508 1)">M</text>
<text class="sb" font-size="18.6" transform="translate(456.33 551.3) scale(1.0937 1)">S</text>
<path d="M468.3 551.4L485.7 520.4" stroke="#000" stroke-width="1.4" fill="none"/>
<text class="" font-size="31.2" transform="translate(488.32 544.9) scale(0.7720 1)">M</text>
<circle cx="519.5" cy="544.75" r="6.2" fill="none" stroke="#000" stroke-width="1.15"/><circle cx="519.55" cy="544.65" r="1.4" fill="#000"/>
<g transform="rotate(-90)">
<text class="" font-size="31.8" transform="translate(-298.37 44.6) scale(0.7465 1)">M</text>
<text class="sb" font-size="20.2" transform="translate(-275.7 52.1) scale(0.9505 1)">f</text>
<text class="sb" font-size="20.2" transform="translate(-267.83 52.1) scale(0.7327 1)">i</text>
<text class="sb" font-size="20.2" transform="translate(-262.32 52.1) scale(1.0016 1)">n</text>
<text class="sb" font-size="20.2" transform="translate(-251.05 52.1) scale(1.1942 1)">a</text>
<text class="sb" font-size="20.2" transform="translate(-237.53 52.1) scale(0.7327 1)">l</text>
<path d="M-230.7 50.7L-212.8 20.1" stroke="#000" stroke-width="1.4" fill="none"/>
<text class="" font-size="31.8" transform="translate(-209.97 44.6) scale(0.7428 1)">M</text>
<circle cx="-179.15" cy="44.35" r="6.2" fill="none" stroke="#000" stroke-width="1.15"/><circle cx="-179.25" cy="44.35" r="1.4" fill="#000"/>
</g>
</svg></body></html>
